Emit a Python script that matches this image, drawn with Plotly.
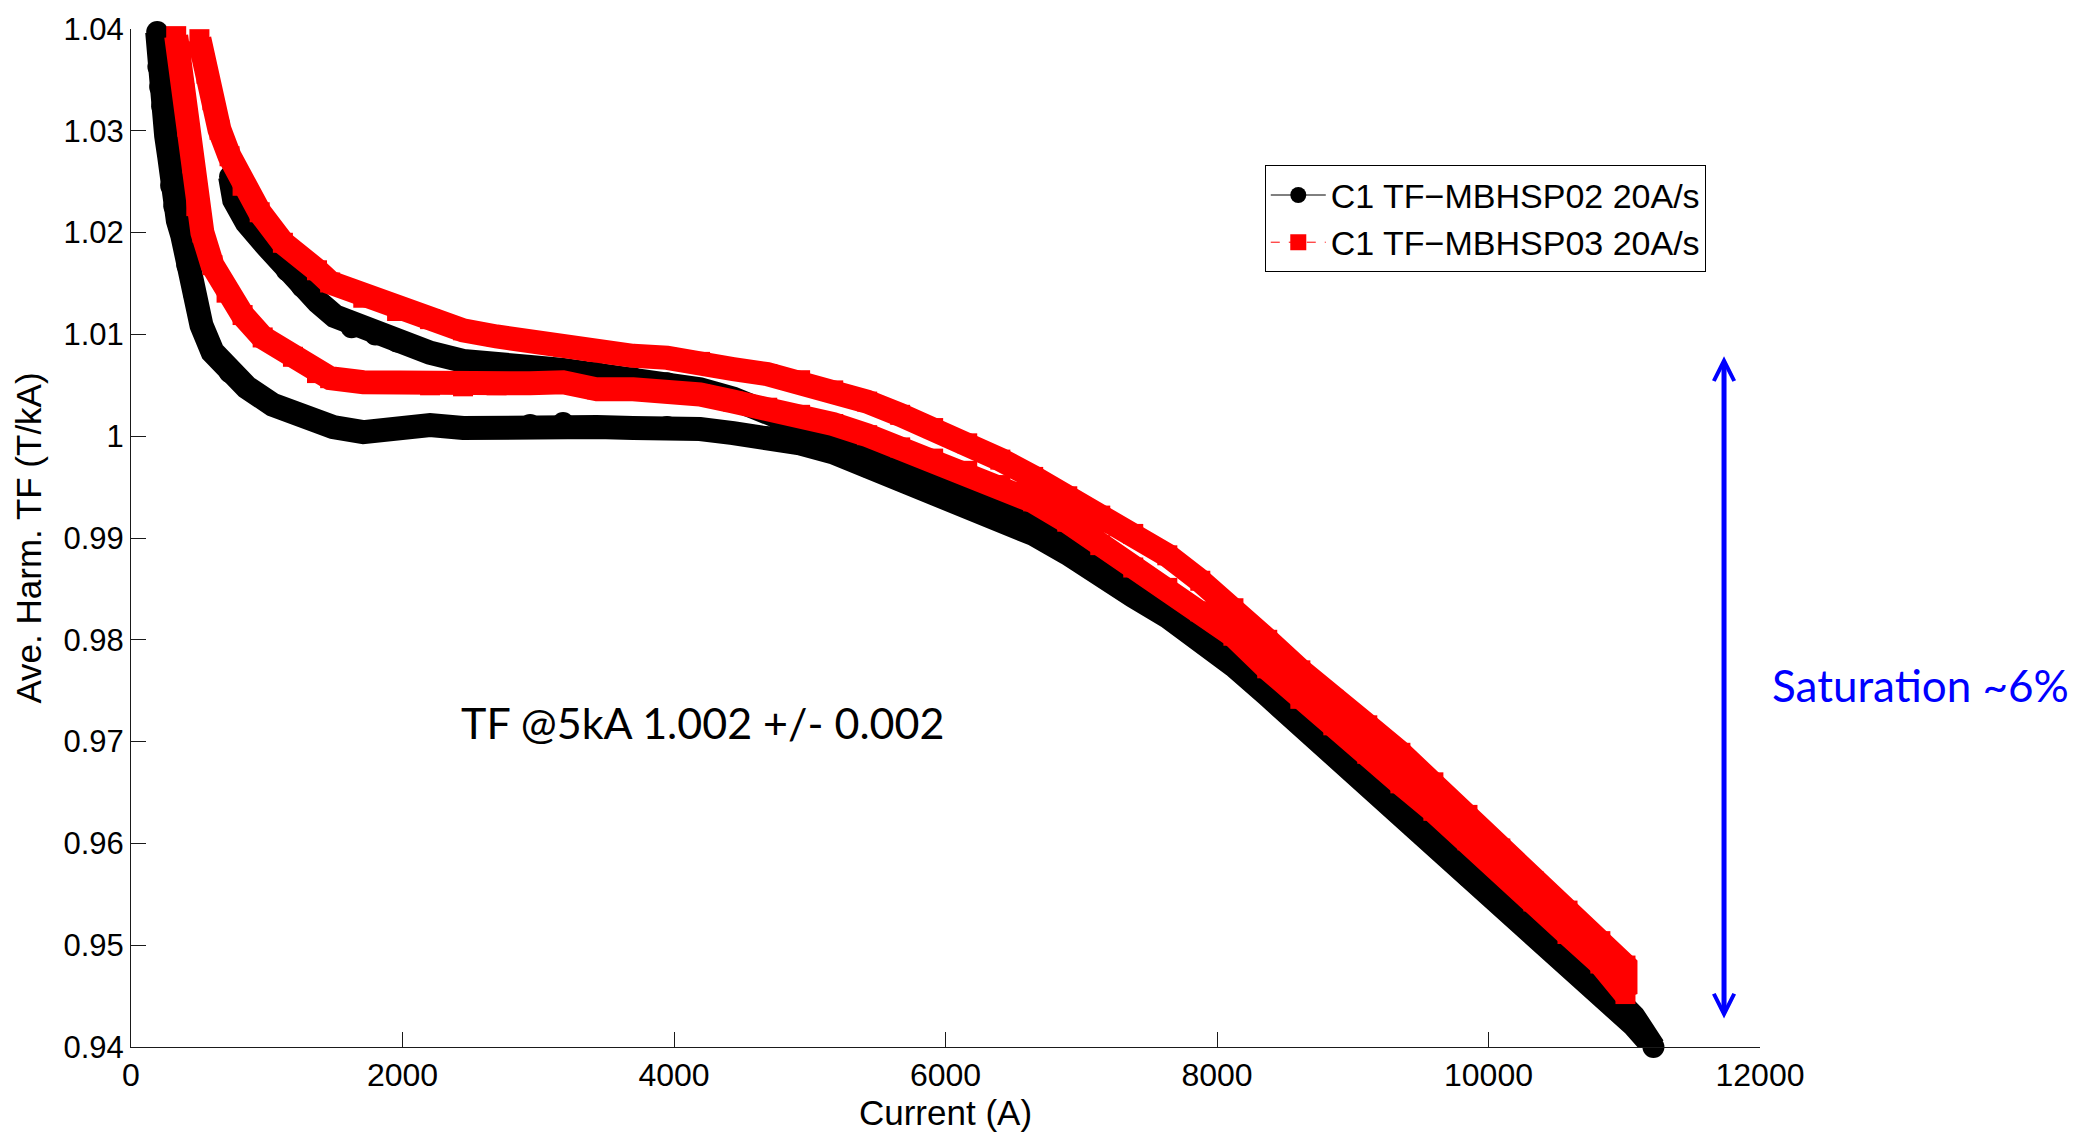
import plotly.graph_objects as go

# ---------------- data ----------------
x_title = "Current (A)"
y_title = "Ave. Harm. TF (T/kA)"
x_tick_vals = [0, 2000, 4000, 6000, 8000, 10000, 12000]
x_tick_text = ["0", "2000", "4000", "6000", "8000", "10000", "12000"]
y_tick_vals = [0.94, 0.95, 0.96, 0.97, 0.98, 0.99, 1.00, 1.01, 1.02, 1.03, 1.04]
y_tick_text = ["0.94", "0.95", "0.96", "0.97", "0.98", "0.99", "1", "1.01", "1.02", "1.03", "1.04"]

name_02 = "C1 TF\u2212MBHSP02 20A/s"
name_03 = "C1 TF\u2212MBHSP03 20A/s"

# MBHSP02 - ramp up (current increasing)
b_up_I = [193, 202, 215, 230, 259, 281, 296, 319, 345, 378, 415, 467, 519, 600, 726, 852,
          1044, 1244, 1489, 1711, 1960, 2203, 2446, 2693, 2940, 3183, 3433, 3699, 3949,
          4192, 4436, 4687, 4929, 5173, 5423, 5666, 5909, 6160, 6404, 6646, 6897, 7140,
          7383, 7634, 7877, 8121, 8370, 8614, 8857, 9107, 9351, 9594, 9845, 10087, 10331,
          10582, 10824, 11068, 11215]
b_up_TF = [1.0397, 1.0363, 1.0343, 1.0324, 1.0295, 1.0275, 1.0246, 1.0226, 1.0212, 1.0197,
           1.0168, 1.0139, 1.0109, 1.0083, 1.0063, 1.0048, 1.0031, 1.0021, 1.0009, 1.0004,
           1.0007, 1.0011, 1.0008, 1.0009, 1.0011, 1.0013, 1.0009, 1.0008, 1.0009, 1.0007,
           1.0003, 0.9999, 0.9993, 0.9984, 0.9970, 0.9957, 0.9946, 0.9934, 0.9920, 0.9904,
           0.9885, 0.9867, 0.9843, 0.9823, 0.9800, 0.9775, 0.9746, 0.9717, 0.9692, 0.9661,
           0.9629, 0.9600, 0.9568, 0.9540, 0.9511, 0.9480, 0.9453, 0.9422, 0.9400]
# MBHSP02 - ramp down (current decreasing)
b_dn_I = [11068, 10824, 10582, 10331, 10087, 9845, 9594, 9351, 9107, 8857, 8614, 8370, 8121,
          7877, 7634, 7383, 7140, 6897, 6646, 6404, 6160, 5909, 5666, 5423, 5173, 4929, 4687,
          4436, 4192, 3949, 3699, 3433, 3183, 2940, 2693, 2446, 2203, 1960, 1800, 1625, 1500,
          1378, 1260, 1148, 1000, 852, 760, 730]
b_dn_TF = [0.9430, 0.9463, 0.9490, 0.9521, 0.9550, 0.9578, 0.9610, 0.9639, 0.9671, 0.9702,
           0.9727, 0.9756, 0.9785, 0.9810, 0.9833, 0.9853, 0.9877, 0.9895, 0.9914, 0.9930,
           0.9944, 0.9956, 0.9967, 0.9979, 0.9993, 1.0010, 1.0024, 1.0037, 1.0046, 1.0052,
           1.0057, 1.0062, 1.0065, 1.0068, 1.0070, 1.0074, 1.0082, 1.0093, 1.0100, 1.0107,
           1.0118, 1.0132, 1.0147, 1.0163, 1.0187, 1.0210, 1.0232, 1.0255]

# MBHSP03 - ramp up
r_up_I = [333, 356, 393, 415, 452, 481, 526, 600, 704, 822, 970, 1193, 1370, 1467, 1711, 1960,
          2203, 2446, 2693, 2940, 3183, 3433, 3699, 3949, 4192, 4436, 4687, 4929, 5173, 5423,
          5666, 5909, 6160, 6404, 6646, 6897, 7140, 7383, 7634, 7877, 8121, 8370, 8614, 8857,
          9107, 9351, 9594, 9845, 10087, 10331, 10582, 10824, 11009]
r_up_TF = [1.0393, 1.0370, 1.0337, 1.0304, 1.0268, 1.0226, 1.0200, 1.0168, 1.0141, 1.0119,
           1.0097, 1.0078, 1.0062, 1.0057, 1.0053, 1.0052, 1.0050, 1.0049, 1.0050, 1.0052,
           1.0053, 1.0046, 1.0046, 1.0044, 1.0041, 1.0034, 1.0028, 1.0021, 1.0012, 1.0001,
           0.9989, 0.9978, 0.9966, 0.9952, 0.9936, 0.9916, 0.9893, 0.9871, 0.9851, 0.9828,
           0.9804, 0.9772, 0.9742, 0.9716, 0.9688, 0.9659, 0.9632, 0.9603, 0.9575, 0.9543,
           0.9511, 0.9482, 0.9452]
# MBHSP03 - ramp down
r_dn_I = [11009, 10824, 10582, 10331, 10087, 9845, 9594, 9351, 9107, 8857, 8614, 8370, 8121,
          7877, 7634, 7383, 7140, 6897, 6646, 6404, 6160, 5909, 5666, 5423, 5173, 4929, 4687,
          4436, 4192, 3949, 3699, 3433, 3183, 2940, 2693, 2446, 2203, 1960, 1711, 1467, 1370,
          1119, 948, 822, 726, 652, 600, 556, 504]
r_dn_TF = [0.9480, 0.9504, 0.9534, 0.9563, 0.9595, 0.9628, 0.9660, 0.9689, 0.9716, 0.9741,
           0.9770, 0.9800, 0.9831, 0.9858, 0.9883, 0.9904, 0.9922, 0.9941, 0.9960, 0.9977,
           0.9993, 1.0008, 1.0021, 1.0034, 1.0045, 1.0055, 1.0061, 1.0066, 1.0073, 1.0077,
           1.0079, 1.0083, 1.0088, 1.0093, 1.0098, 1.0104, 1.0115, 1.0123, 1.0136, 1.0151,
           1.0163, 1.0190, 1.0220, 1.0246, 1.0275, 1.0301, 1.0330, 1.0356, 1.0390]

note_text = "TF @5kA 1.002 +/- 0.002"
note_I, note_TF = 4212, 0.9719
sat_text = "Saturation ~6%"
arrow_I = 11735
arrow_low, arrow_high = 0.9428, 1.0080

# ---------------- figure ----------------
b_I = b_up_I + b_dn_I
b_TF = b_up_TF + b_dn_TF
r_I = r_up_I + r_dn_I
r_TF = r_up_TF + r_dn_TF

BLACK = "#000000"
RED = "#FF0000"
BLUE = "#0000FF"

fig = go.Figure()
# dense band underlay (MATLAB plots thousands of overlapping markers)
fig.add_trace(go.Scatter(x=b_I, y=b_TF, mode="lines", showlegend=False, hoverinfo="skip",
                         line=dict(color=BLACK, width=24), cliponaxis=False))
fig.add_trace(go.Scatter(x=b_I, y=b_TF, mode="lines+markers", name=name_02, cliponaxis=False,
                         line=dict(color=BLACK, width=1),
                         marker=dict(symbol="circle", size=22, color=BLACK, line=dict(width=0))))
fig.add_trace(go.Scatter(x=r_I, y=r_TF, mode="lines", showlegend=False, hoverinfo="skip",
                         line=dict(color=RED, width=24), cliponaxis=False))
fig.add_trace(go.Scatter(x=r_I, y=r_TF, mode="lines+markers", name=name_03, cliponaxis=False,
                         line=dict(color=RED, width=1, dash="dash"),
                         marker=dict(symbol="square", size=20, color=RED, line=dict(width=0))))

axis_common = dict(showgrid=False, zeroline=False, showline=True, linecolor="#1a1a1a",
                   linewidth=1, ticks="inside", ticklen=15, tickwidth=1, tickcolor="#1a1a1a",
                   mirror=False)

fig.update_layout(
    width=2095, height=1134,
    margin=dict(l=131, r=335, t=22, b=87),
    plot_bgcolor="white", paper_bgcolor="white",
    font=dict(family="Liberation Sans, Arial, sans-serif", size=32, color="#000000"),
    xaxis=dict(range=[0, 12000], tickvals=x_tick_vals, ticktext=x_tick_text,
               tickfont=dict(size=32, color="#000000"),
               title=dict(text=x_title, font=dict(size=35), standoff=4), **axis_common),
    yaxis=dict(range=[0.94, 1.04], tickvals=y_tick_vals, ticktext=y_tick_text,
               tickfont=dict(size=31, color="#000000"),
               title=dict(text=y_title, font=dict(size=35), standoff=11), **axis_common),
    legend=dict(x=0.696, y=0.866, xanchor="left", yanchor="top",
                bgcolor="white", bordercolor="#000000", borderwidth=1,
                font=dict(size=34, color="#000000"), itemwidth=55,
                tracegroupgap=0),
    showlegend=True,
)

fig.add_annotation(x=note_I, y=note_TF, xref="x", yref="y", text=note_text, showarrow=False,
                   xanchor="center", yanchor="middle",
                   font=dict(family="Lato, sans-serif", size=43, color="#000000"))
fig.add_annotation(x=1.0983, y=0.356, xref="paper", yref="paper", text=sat_text,
                   showarrow=False, xanchor="center", yanchor="middle",
                   font=dict(family="Lato, sans-serif", size=44, color=BLUE))
fig.add_annotation(x=arrow_I, y=arrow_low, ax=arrow_I, ay=arrow_high,
                   xref="x", yref="y", axref="x", ayref="y", text="",
                   showarrow=True, arrowside="end+start", arrowhead=5, startarrowhead=5,
                   arrowsize=0.8, startarrowsize=0.8, arrowwidth=5, arrowcolor=BLUE,
                   standoff=0, startstandoff=0)

fig.write_html("out.html")
